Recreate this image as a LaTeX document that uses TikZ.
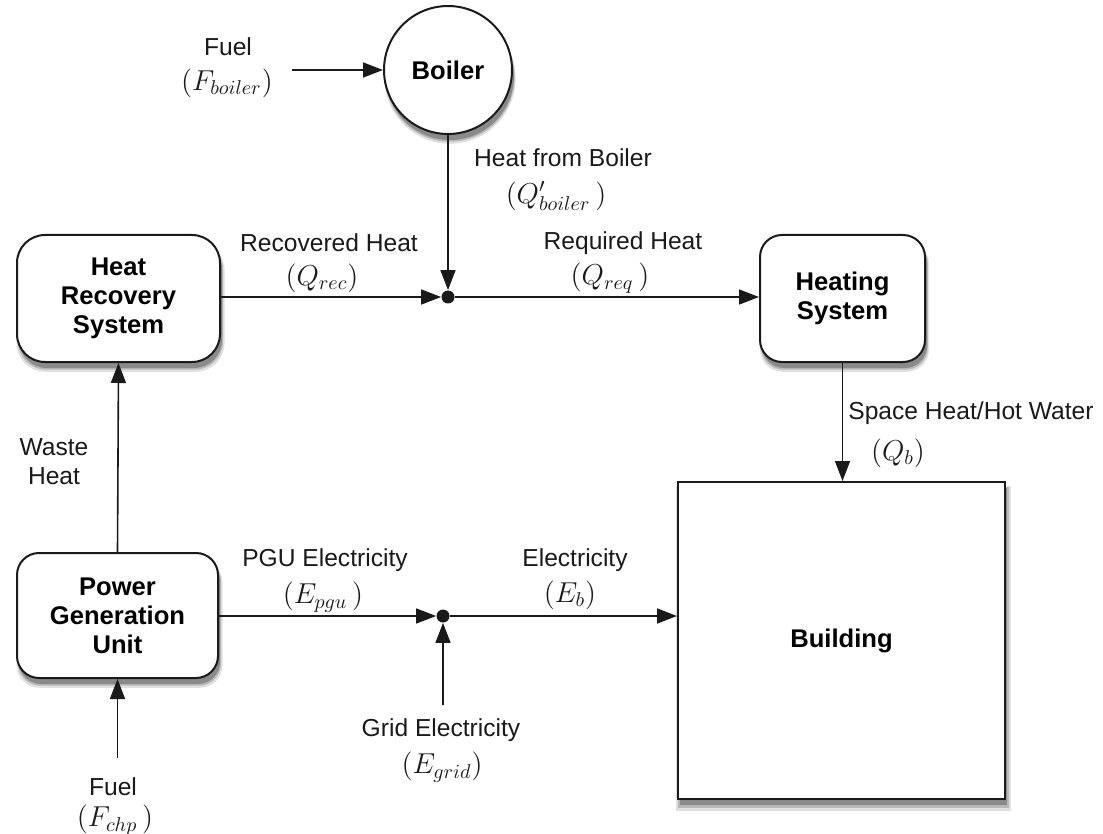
\documentclass[tikz,border=0pt]{standalone}
\usepackage{fontspec}
\setmainfont{Liberation Sans}
\usetikzlibrary{arrows.meta,shadows}
\definecolor{ink}{HTML}{1A1A1A}
\begin{document}
\begin{tikzpicture}[x=0.5pt,y=-0.5pt,
  flow/.style={draw=ink,line width=0.8pt,-{Triangle[length=10pt,width=7.5pt]}},
  box/.style={draw=ink,line width=1pt,fill=white,align=center,
    font=\fontsize{12.8}{14.5}\selectfont\bfseries,
    general shadow={shadow xshift=1pt,shadow yshift=-4pt,shadow scale=1.025,opacity=0.12,fill=black},
    general shadow={shadow xshift=1pt,shadow yshift=-3.5pt,shadow scale=1.01,opacity=0.18,fill=black},
    general shadow={shadow xshift=1pt,shadow yshift=-3pt,opacity=0.25,fill=black}},
  lbl/.style={text=ink,font=\fontsize{12.3}{14.5}\selectfont,inner sep=0pt},
  mlbl/.style={text=ink,font=\fontsize{14.2}{16}\selectfont,inner sep=0pt},
  junc/.style={circle,fill=ink,inner sep=0pt,minimum size=6.5pt}
]
\useasboundingbox (0,0) rectangle (1103,834);

% nodes
\node[box,circle,minimum size=64pt,inner sep=0pt] (boiler) at (448,70) {Boiler};
\node[box,rounded corners=14pt,minimum width=101.5pt,minimum height=63.5pt] (hrs) at (118.5,298.5) {Heat\\Recovery\\System};
\node[box,rounded corners=11pt,minimum width=82.5pt,minimum height=63.5pt] (hs) at (842.5,298.5) {Heating\\System};
\node[box,rounded corners=11pt,minimum width=100.5pt,minimum height=62.5pt] (pgu) at (117.5,615.5) {Power\\Generation\\Unit};
\node[box,minimum width=163.5pt,minimum height=158.5pt] (bld) at (841.5,640.5) {Building};
\node[junc] (j1) at (448,297) {};
\node[junc] (j2) at (443,616) {};

\coordinate (fuelb) at (292,70);
\coordinate (grid) at (443,705);
\coordinate (fuelc) at (117.5,758);

% connectors
\draw[flow] (fuelb) -- (boiler.west);
\draw[flow] (boiler.south) -- (j1.north);
\draw[flow] (hrs.east |- j1) -- (j1.west);
\draw[flow] (j1.east) -- (j1 -| hs.west);
\draw[flow] (hs.south) -- (hs.south |- bld.north);
\draw[flow] (pgu.north) -- (hrs.south);
\draw[flow] (pgu.east |- j2) -- (j2.west);
\draw[flow] (j2.east) -- (j2 -| bld.west);
\draw[flow] (grid) -- (j2.south);
\draw[flow] (fuelc) -- (pgu.south);

% labels
\node[lbl] (l1) at (228,47) {Fuel};
\node[mlbl] (m1) at (227,83) {$(F_{boiler})$};
\node[lbl] (l2) at (563,158) {Heat from Boiler};
\node[mlbl] (m2) at (556,196) {$(Q'_{boiler}\,)$};
\node[lbl] (l3) at (329,243) {Recovered Heat};
\node[mlbl] (m3) at (322,278) {$(Q_{rec})$};
\node[lbl] (l4) at (623,243) {Required Heat};
\node[mlbl] (m4) at (610,278) {$(Q_{req}\,)$};
\node[lbl,anchor=west] (l5) at (848,413) {Space Heat/Hot Water};
\node[mlbl] (m5) at (898,453) {$(Q_{b})$};
\node[lbl,align=center] (l6) at (54,462) {Waste\\Heat};
\node[lbl] (l7) at (325,560) {PGU Electricity};
\node[mlbl] (m7) at (323,597) {$(E_{pgu}\,)$};
\node[lbl] (l8) at (575,560) {Electricity};
\node[mlbl] (m8) at (570,595) {$(E_{b})$};
\node[lbl] (l9) at (441,730) {Grid Electricity};
\node[mlbl] (m9) at (442,767) {$(E_{grid})$};
\node[lbl] (l10) at (113,787) {Fuel};
\node[mlbl] (m10) at (115,820) {$(F_{chp}\,)$};
\end{tikzpicture}
\end{document}
